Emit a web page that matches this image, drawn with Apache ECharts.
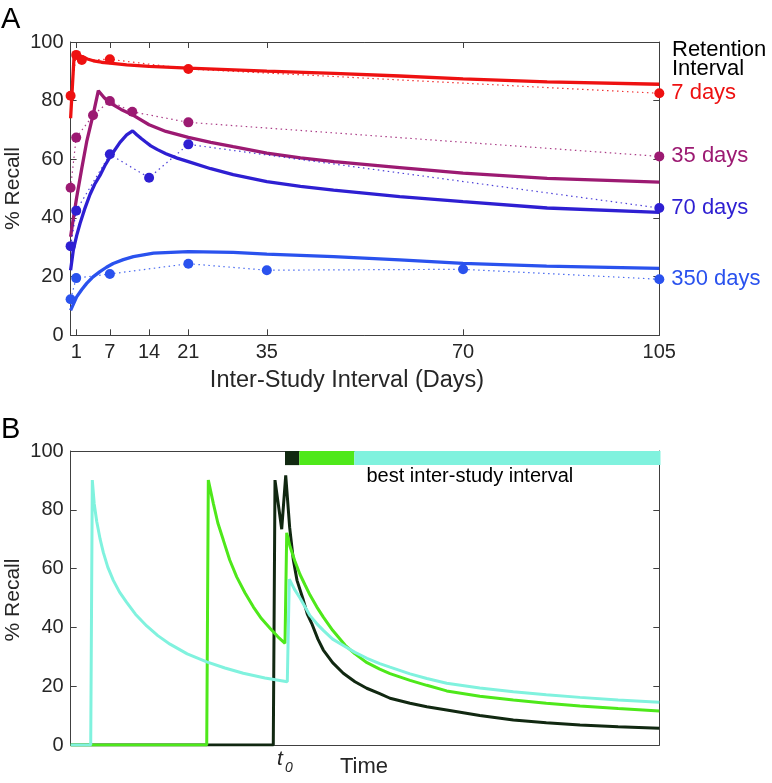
<!DOCTYPE html>
<html>
<head>
<meta charset="utf-8">
<script src="https://cdn.jsdelivr.net/npm/echarts@6/dist/echarts.min.js"></script>
<style>
html,body{margin:0;padding:0;background:#fff;}
#chart{width:772px;height:783px;}
</style>
</head>
<body>
<div id="chart"></div>
<script>
// ---------- Panel A data ----------
const xTicksA = [1, 7, 14, 21, 35, 70, 105];
const yTicks = [0, 20, 40, 60, 80, 100];

// observed data (ISI in days, % recall)
const ri7Isi = [0, 1, 2, 7, 21, 105];
const ri7Recall = [81.7, 95.6, 93.9, 94.1, 90.8, 82.5];
const ri35Isi = [0, 1, 4, 7, 11, 21, 105];
const ri35Recall = [50.3, 67.4, 75.0, 79.9, 76.2, 72.6, 61.0];
const ri70Isi = [0, 1, 7, 14, 21, 105];
const ri70Recall = [30.4, 42.5, 61.7, 53.7, 65.1, 43.4];
const ri350Isi = [0, 1, 7, 21, 35, 70, 105];
const ri350Recall = [12.3, 19.5, 20.9, 24.4, 22.2, 22.5, 19.1];

// model curves [ISI, %recall]
const fit7 = [[0,74],[0.66,96.5],[1,96.3],[1.68,95.3],[3,94.2],[4.05,93.6],[5.5,93.1],[7,92.8],[10,92.2],[14,91.7],[21,91.1],[28,90.6],[35,90.1],[47,89.3],[58.7,88.4],[70,87.4],[85,86.4],[105,85.6]];
const fit35 = [[0,33.6],[0.5,40],[1.08,47],[2,57],[2.87,66],[4.05,75.5],[4.95,83.4],[6,81],[7,79.3],[9,77],[11.2,75],[14,71.8],[17,69.5],[21,67.5],[25,65.8],[29,64.3],[35,62.1],[41,60.5],[47,59.2],[58.7,57.2],[70,55.3],[85,53.5],[105,52.2]];
const fit70 = [[0,22.2],[0.48,29],[1.08,34],[1.68,38.1],[2.5,43],[3.46,48],[4.3,51.5],[5.24,54.5],[6.1,57.8],[7.03,60.8],[8.81,65.8],[10,68.3],[11.06,69.7],[11.8,68.4],[12.6,67.1],[13.4,65.9],[14.3,64.6],[15.5,63.3],[17,61.9],[19,60.4],[21,59.2],[25,56.8],[29,54.8],[35,52.4],[41,50.8],[46.9,49.5],[58.7,47.3],[70,45.6],[85,43.4],[105,41.9]];
const fit350 = [[0,8.5],[1.08,13.1],[2,15.6],[2.87,17.7],[4,19.9],[5.24,21.7],[6.4,23.2],[7.6,24.5],[9.4,25.8],[11.2,26.8],[14.8,28],[21,28.5],[29,28.3],[35,27.7],[46.9,26.8],[58.7,25.7],[70,24.5],[84.9,23.6],[105,22.8]];

const riNames = ['7 days', '35 days', '70 days', '350 days'];

// ---------- Panel B data (time in arbitrary units 0..100) ----------
const t0 = 36.41;
const curveDark = [[0,0],[34.42,0],[34.71,90.1],[35.85,73.4],[36.53,91.7],[37.2,74],[37.82,63],[38.45,56],[39.52,49.3],[40.2,44.5],[40.94,41.4],[42.0,36],[42.92,32.3],[44.5,28],[46.31,24.4],[48.3,21.5],[50.29,19.3],[52.5,17.5],[54.25,15.9],[57.65,14.2],[60.5,13],[63.88,11.9],[69.5,10],[75.2,8.5],[80.8,7.6],[86.53,6.8],[93,6.2],[100,5.7]];
const curveGreen = [[0,0],[23.11,0],[23.38,90.1],[24.23,82.2],[25.0,75.5],[25.93,69.7],[27.0,63],[28.2,57.2],[29.6,51.8],[31.02,47],[32.4,43],[33.86,39.7],[35.2,36.8],[36.41,34.6],[36.7,72.2],[37.26,67.5],[38.1,62.5],[38.96,58],[39.8,54.5],[40.66,51],[41.8,47],[42.92,43.5],[44.5,39],[46.6,34],[48.3,31],[50.34,28],[52.5,25.8],[54.25,24.3],[57.65,22],[60.5,20.3],[63.88,18.4],[69.5,16.6],[75.2,15.3],[80.8,14.2],[86.53,13.3],[93,12.4],[100,11.6]];
const curveCyan = [[0,0],[3.40,0],[3.67,90.1],[4.0,82],[4.42,76],[5.0,70],[5.54,65.5],[6.3,60.5],[7.24,56],[8.3,52],[9.51,48.5],[11.0,44.5],[12.91,40.5],[14.8,37.2],[16.87,34.3],[19.8,31],[23.11,28.3],[26.2,26.2],[29.32,24.4],[33.0,22.8],[36.8,21.5],[37.14,56.4],[38.0,53],[38.96,50],[39.8,47],[40.66,44],[41.8,41.3],[42.92,39],[44.5,36],[46.6,33.5],[48.3,31.5],[50.34,29.5],[52.5,27.7],[54.25,26.5],[57.65,24.2],[60.5,22.6],[63.88,21],[69.5,19.4],[75.2,18.1],[80.8,17.1],[86.53,16.2],[93,15.3],[100,14.5]];

// best inter-study interval bar segments
const bestStart = [36.41, 38.84, 48.18];
const bestEnd = [38.84, 48.18, 100.2];

// ---------- styles ----------
const FONT = 'Liberation Sans, Arial, Helvetica, sans-serif';
const TXT = '#262626';
const AX = '#404040';
const colA = ['#ee1111', '#9c1a72', '#2e1fd2', '#2a52ee'];
const colB = ['#112811', '#4ee81a', '#80f2de'];

const chart = echarts.init(document.getElementById('chart'), null, {renderer: 'canvas'});

const gridA = {left: 70.6, top: 42, right: 112.7, bottom: 447.7, outerBoundsMode: 'none'};
const gridB = {left: 70.7, top: 451, right: 112.7, bottom: 38, outerBoundsMode: 'none'};

function baseAxisLine() { return {show: true, onZero: false, lineStyle: {color: AX, width: 1}}; }

const xAxes = [
  {gridIndex: 0, type: 'value', min: 0, max: 105, position: 'bottom',
   axisLine: baseAxisLine(), splitLine: {show: false},
   axisTick: {show: true, inside: true, length: 6, customValues: xTicksA, lineStyle: {color: AX}},
   axisLabel: {show: true, customValues: xTicksA, fontSize: 20, color: TXT, margin: 7, fontFamily: FONT}},
  {gridIndex: 0, type: 'value', min: 0, max: 105, position: 'top',
   axisLine: baseAxisLine(), splitLine: {show: false},
   axisTick: {show: true, inside: true, length: 6, customValues: xTicksA, lineStyle: {color: AX}},
   axisLabel: {show: false}},
  {gridIndex: 1, type: 'value', min: 0, max: 100, position: 'bottom',
   axisLine: baseAxisLine(), splitLine: {show: false},
   axisTick: {show: false}, axisLabel: {show: false}},
  {gridIndex: 1, type: 'value', min: 0, max: 100, position: 'top',
   axisLine: baseAxisLine(), splitLine: {show: false},
   axisTick: {show: false}, axisLabel: {show: false}}
];

function yAxisDef(grid, pos, labels) {
  return {gridIndex: grid, type: 'value', min: 0, max: 100, interval: 20, position: pos,
    axisLine: baseAxisLine(), splitLine: {show: false},
    axisTick: {show: true, inside: true, length: 6, lineStyle: {color: AX}},
    axisLabel: {show: labels, fontSize: 20, color: TXT, margin: 7, fontFamily: FONT}};
}
const yAxes = [yAxisDef(0, 'left', true), yAxisDef(0, 'right', false), yAxisDef(1, 'left', true), yAxisDef(1, 'right', false)];

const series = [];
const fits = [fit7, fit35, fit70, fit350];
const isis = [ri7Isi, ri35Isi, ri70Isi, ri350Isi];
const recs = [ri7Recall, ri35Recall, ri70Recall, ri350Recall];

for (let i = 0; i < 4; i++) {
  series.push({
    type: 'line', xAxisIndex: 0, yAxisIndex: 0, data: fits[i], showSymbol: false, smooth: false,
    lineStyle: {color: colA[i], width: 3.3}, z: 2, silent: true
  });
}
for (let i = 0; i < 4; i++) {
  const pts = isis[i].map((x, k) => {
    const item = {value: [x, recs[i][k]]};
    if (k === isis[i].length - 1) {
      item.label = {show: true, position: 'right', distance: 7, formatter: riNames[i],
        color: colA[i], fontSize: 22, fontFamily: FONT};
    }
    return item;
  });
  series.push({
    type: 'line', xAxisIndex: 0, yAxisIndex: 0, data: pts, symbol: 'circle', symbolSize: 10,
    showSymbol: true, itemStyle: {color: colA[i]},
    lineStyle: {color: colA[i], width: 1.2, type: [1.5, 3.5], opacity: 0.85}, z: 3, silent: true
  });
}

// panel B curves
const curvesB = [curveDark, curveGreen, curveCyan];
for (let i = 0; i < 3; i++) {
  const s = {
    type: 'line', xAxisIndex: 2, yAxisIndex: 2, data: curvesB[i], showSymbol: false, smooth: false,
    lineStyle: {color: colB[i], width: 3}, z: 2 + i * 0.1, silent: true
  };
  if (i === 0) {
    s.markLine = {silent: true, symbol: ['none', 'none'], label: {show: false},
      lineStyle: {color: '#333', width: 1, type: [8, 5]},
      data: [[{coord: [t0, 0]}, {coord: [t0, 102.7]}]]};
  }
  series.push(s);
}
// best inter-study interval bar
series.push({
  type: 'custom', xAxisIndex: 2, yAxisIndex: 2, silent: true, z: 5,
  data: bestStart.map((s, k) => [s, bestEnd[k]]),
  renderItem: function (params, api) {
    const a = api.coord([api.value(0), 100]);
    const b = api.coord([api.value(1), 95.2]);
    return {type: 'rect', shape: {x: a[0], y: a[1], width: b[0] - a[0], height: b[1] - a[1]},
      style: {fill: colB[params.dataIndex]}};
  }
});

const graphic = [
  {type: 'text', left: 1, top: 5, style: {text: 'A', fontSize: 29, fill: '#000', fontFamily: FONT}},
  {type: 'text', left: 1, top: 415, style: {text: 'B', fontSize: 29, fill: '#000', fontFamily: FONT}},
  {type: 'text', x: 13.5, y: 188.5, rotation: Math.PI / 2,
   style: {text: '% Recall', fontSize: 21, fill: TXT, fontFamily: FONT, align: 'center', verticalAlign: 'middle'}},
  {type: 'text', x: 13.5, y: 600, rotation: Math.PI / 2,
   style: {text: '% Recall', fontSize: 21, fill: TXT, fontFamily: FONT, align: 'center', verticalAlign: 'middle'}},
  {type: 'text', x: 347, y: 381,
   style: {text: 'Inter-Study Interval (Days)', fontSize: 23.5, fill: TXT, fontFamily: FONT, align: 'center', verticalAlign: 'middle'}},
  {type: 'text', x: 672, y: 41,
   style: {text: 'Retention\nInterval', fontSize: 22, lineHeight: 18.5, fill: '#000', fontFamily: FONT, align: 'left', verticalAlign: 'top'}},
  {type: 'text', x: 366.5, y: 476,
   style: {text: 'best inter-study interval', fontSize: 20, fill: '#000', fontFamily: FONT, align: 'left', verticalAlign: 'middle'}},
  {type: 'text', x: 340, y: 767,
   style: {text: 'Time', fontSize: 22, fill: TXT, fontFamily: FONT, align: 'left', verticalAlign: 'middle'}},
  {type: 'text', x: 277, y: 759.5,
   style: {text: 't', fontSize: 21, fontStyle: 'italic', fill: TXT, fontFamily: FONT, align: 'left', verticalAlign: 'middle'}},
  {type: 'text', x: 285, y: 768.5,
   style: {text: '0', fontSize: 14, fontStyle: 'italic', fill: TXT, fontFamily: FONT, align: 'left', verticalAlign: 'middle'}}
];

chart.setOption({
  animation: false,
  backgroundColor: '#fff',
  grid: [gridA, gridB],
  xAxis: xAxes,
  yAxis: yAxes,
  series: series,
  graphic: graphic
});
</script>
</body>
</html>
